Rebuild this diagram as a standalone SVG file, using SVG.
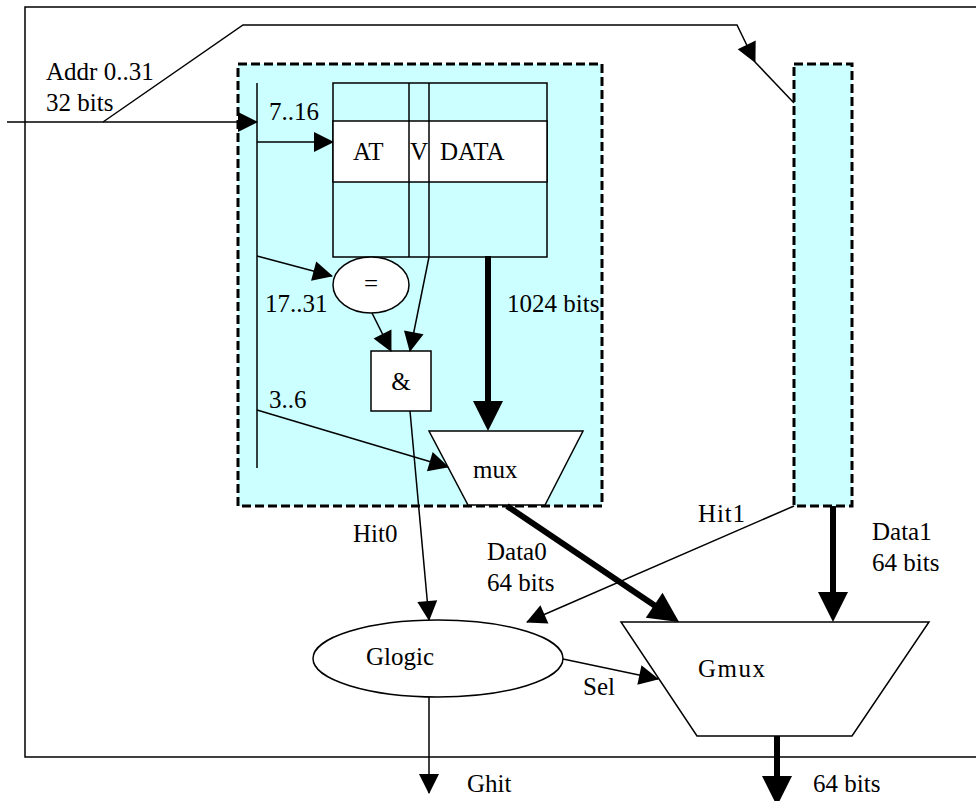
<svg xmlns="http://www.w3.org/2000/svg" width="976" height="801" viewBox="0 0 976 801">
<style>
text{font-family:'Liberation Serif','Times New Roman',Times,'DejaVu Serif',serif;font-size:25px;fill:#000}
.ln{fill:none;stroke:#000;stroke-width:1.5}
.thick{fill:none;stroke:#000;stroke-width:6}
.box{fill:#CCFFFF;stroke:#000;stroke-width:3;stroke-dasharray:9 4}
.sh{fill:#fff;stroke:#000;stroke-width:1.5}
</style>
<defs>
<marker id="a" markerUnits="userSpaceOnUse" markerWidth="20" markerHeight="20" refX="19" refY="10" orient="auto" overflow="visible"><path d="M0,0L20,10L0,20z" fill="#000"/></marker>
<marker id="A" markerUnits="userSpaceOnUse" markerWidth="30" markerHeight="30" refX="1" refY="15" orient="auto" overflow="visible"><path d="M0,0L30,15L0,30z" fill="#000"/></marker>
</defs>
<rect width="976" height="801" fill="#fff"/>
<g id="frame"><rect x="25" y="7" width="970" height="750" class="ln"/></g>
<g id="cache0">
<rect x="238" y="64" width="364" height="442" class="box"/>
</g>
<g id="cache1">
<rect x="794" y="64" width="58" height="442" class="box"/>
</g>
<g id="bus"><line x1="257" y1="83" x2="257" y2="468" class="ln"/></g>
<g id="table">
<rect x="333" y="83" width="214" height="174" class="ln"/>
<rect x="333" y="121" width="214" height="61" class="sh"/>
<line x1="409" y1="83" x2="409" y2="257" class="ln"/>
<line x1="429" y1="83" x2="429" y2="257" class="ln"/>
<text x="353" y="160">AT</text>
<text x="410" y="160">V</text>
<text x="440" y="160">DATA</text>
</g>
<g id="eq"><ellipse cx="371" cy="285" rx="38" ry="28" class="sh"/><text x="371" y="292" text-anchor="middle">=</text></g>
<g id="and"><rect x="371" y="351" width="60" height="60" class="sh"/><text x="401" y="390" text-anchor="middle">&amp;</text></g>
<g id="mux"><polygon points="429,431 583,431 545,505 468,505" class="sh"/><text x="473" y="478">mux</text></g>
<g id="glogic"><ellipse cx="438" cy="658.5" rx="125" ry="38.5" class="sh"/><text x="366" y="665">Glogic</text></g>
<g id="gmux"><polygon points="621,622 929,622 852,736 697,736" class="sh"/><text x="698" y="677" textLength="67">Gmux</text></g>
<g id="connectors">
<line x1="7" y1="122" x2="257" y2="122" class="ln" marker-end="url(#a)"/>
<polyline points="103,122 243,25 737,25 755,62" class="ln" marker-end="url(#a)"/>
<line x1="755" y1="62" x2="794" y2="103" class="ln"/>
<line x1="257" y1="142" x2="333" y2="142" class="ln" marker-end="url(#a)"/>
<line x1="257" y1="256" x2="332" y2="276" class="ln" marker-end="url(#a)"/>
<line x1="372" y1="313" x2="391" y2="351" class="ln" marker-end="url(#a)"/>
<line x1="429" y1="257" x2="410" y2="351" class="ln" marker-end="url(#a)"/>
<line x1="257" y1="410" x2="448" y2="467" class="ln" marker-end="url(#a)"/>
<line x1="488" y1="256" x2="488" y2="402" class="thick" marker-end="url(#A)"/>
<line x1="410" y1="411" x2="429" y2="620" class="ln" marker-end="url(#a)"/>
<line x1="507" y1="506" x2="655" y2="605.8" class="thick" marker-end="url(#A)"/>
<line x1="794" y1="506" x2="527" y2="622" class="ln" marker-end="url(#a)"/>
<line x1="833" y1="506" x2="833" y2="593" class="thick" marker-end="url(#A)"/>
<line x1="563" y1="659" x2="658" y2="679" class="ln" marker-end="url(#a)"/>
<line x1="429" y1="697" x2="429" y2="793" class="ln" marker-end="url(#a)"/>
<line x1="777" y1="736" x2="777" y2="777" class="thick" marker-end="url(#A)"/>
</g>
<g id="labels">
<text x="46" y="80">Addr 0..31</text>
<text x="46" y="111">32 bits</text>
<text x="269" y="120">7..16</text>
<text x="265" y="312">17..31</text>
<text x="507" y="312">1024 bits</text>
<text x="269" y="408">3..6</text>
<text x="353" y="542">Hit0</text>
<text x="698" y="522" textLength="47">Hit1</text>
<text x="487" y="560">Data0</text>
<text x="487" y="591">64 bits</text>
<text x="872" y="540">Data1</text>
<text x="872" y="571">64 bits</text>
<text x="583" y="695">Sel</text>
<text x="467" y="792">Ghit</text>
<text x="813" y="792">64 bits</text>
</g>
</svg>
